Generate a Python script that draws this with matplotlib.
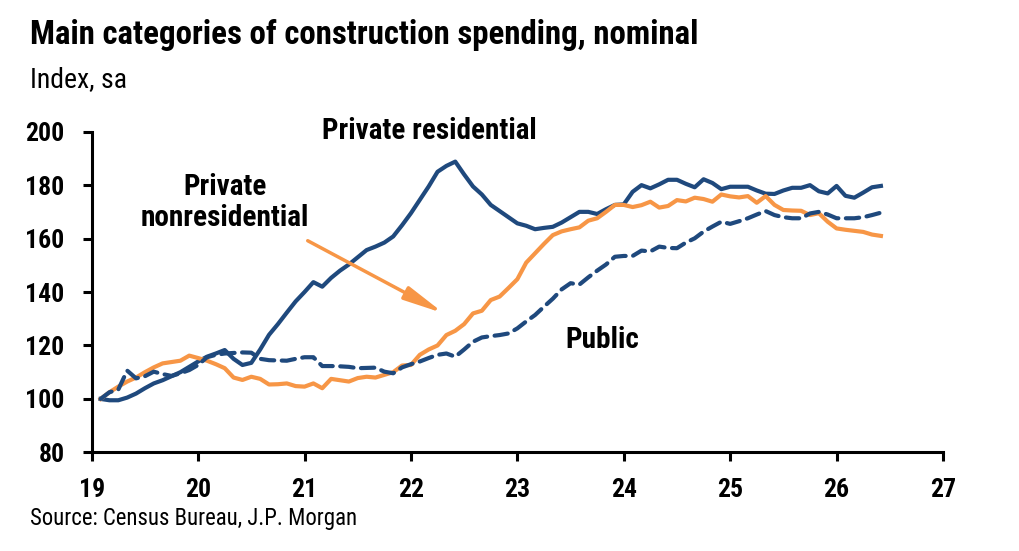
import os
import numpy as np
import matplotlib
matplotlib.use("Agg")
import matplotlib.pyplot as plt
import matplotlib.font_manager as fm

# monthly index, first point = Jan 2019, sa
months = np.arange(1, 90)
x_years = 19 + months / 12.0

private_residential = [
    100, 99.5, 99.5, 100.5, 102, 104, 105.8, 107, 108.5, 110, 112, 114,
    115.8, 117, 118.3, 115, 112.7, 113.5, 118.5, 124, 128, 132.3, 136.5, 140,
    143.7, 142, 145.3, 148, 150.3, 153, 155.7, 157, 158.5, 160.8, 165, 169.5,
    174.5, 179.5, 185, 187.2, 188.8, 184, 179.5, 176.5, 172.6, 170.3, 168, 165.7,
    164.8, 163.5, 164, 164.4, 166, 168, 170, 170, 169.2, 171, 172.6, 172.8,
    177.5, 180, 178.8, 180.3, 182, 182, 180.5, 179.2, 182.2, 180.8, 178.5, 179.4,
    179.4, 179.4, 178, 176.8, 176.7, 178, 179, 179, 180, 177.7, 176.9, 179.7,
    176, 175.3, 177.2, 179.2, 179.7,
]
private_nonresidential = [
    100, 102.5, 104.6, 106.5, 108, 110, 111.8, 113.3, 113.8, 114.3, 116.2, 115.3,
    114.3, 113, 111.5, 108, 107.1, 108.3, 107.5, 105.4, 105.5, 105.8, 104.8, 104.6,
    105.8, 104, 107.5, 107, 106.5, 107.8, 108.3, 108, 109, 110, 112.5, 112.7,
    116.5, 118.5, 120, 123.9, 125.5, 128, 132, 133, 137, 138.3, 141.5, 144.8,
    151, 154.5, 158, 161.3, 162.7, 163.5, 164.2, 166.7, 167.6, 170, 172.6, 172.6,
    171.8, 172.5, 173.8, 171.6, 172.2, 174.4, 173.9, 175.3, 174.8, 173.8, 176.5, 175.8,
    175.4, 175.9, 173.4, 175.9, 172.6, 170.7, 170.5, 170.4, 168.8, 169.5, 166.3, 163.8,
    163.3, 162.9, 162.5, 161.5, 161,
]
public = [
    100, 102.5, 103.5, 110.6, 107.7, 108.5, 110.2, 109.3, 108.6, 109.6, 110.8, 112.7,
    115.6, 116.5, 117, 117.2, 117.4, 117.3, 115, 114.5, 114.4, 114.3, 115, 115.6,
    115.6, 112.3, 112.3, 112.2, 112, 111.5, 111.6, 111.7, 110.2, 109.6, 111.8, 113,
    114, 115.3, 116.5, 117, 115.8, 118.5, 121.4, 123, 123.5, 123.9, 124.5, 126.4,
    129, 131.4, 134.5, 137.5, 141, 143.3, 142.8, 145.5, 148, 150.3, 153.2, 153.5,
    153.5, 155.5, 155.2, 157, 156.5, 156.4, 158.5, 160.1, 162.6, 164.5, 166.3, 165.5,
    166.5, 167.6, 169, 170.3, 168.8, 168, 167.6, 167.6, 169.4, 170, 169, 167.6,
    167.6, 167.6, 168, 168.8, 169.7,
]

xticks = list(range(19, 28))
yticks = list(range(80, 201, 20))

blue = "#1F497D"
orange = "#F79646"


def find_narrow():
    # look for an installed narrow/condensed face (Arial Narrow look-alike)
    files = [f.fname for f in fm.fontManager.ttflist]
    pairs = [
        ("LiberationSansNarrow-Bold.", "LiberationSansNarrow-Regular."),
        ("ArialNarrow-Bold", "ArialNarrow."),
        ("RobotoCondensed-Bold.", "RobotoCondensed-Regular."),
        ("NotoSans-CondensedBold.", "NotoSans-Condensed."),
        ("DejaVuSansCondensed-Bold.", "DejaVuSansCondensed."),
    ]
    for b, r in pairs:
        fb = [f for f in files if os.path.basename(f).startswith(b)]
        fr = [f for f in files if os.path.basename(f).startswith(r)]
        if fb and fr:
            return fm.FontProperties(fname=fb[0]), fm.FontProperties(fname=fr[0])
    return (fm.FontProperties(family="Liberation Sans", weight="bold"),
            fm.FontProperties(family="Liberation Sans"))


bold_fp, reg_fp = find_narrow()

fig = plt.figure(figsize=(10.2, 5.51), dpi=100)
ax = fig.add_axes([0.0899, 0.179, 0.9245 - 0.0899, 0.761 - 0.179])

ax.plot(x_years, private_residential, color=blue, lw=3.0, solid_joinstyle="round")
ax.plot(x_years, private_nonresidential, color=orange, lw=3.0, solid_joinstyle="round")
ax.plot(x_years, public, color=blue, lw=3.0, ls=(0, (3.2, 1.8)), dash_capstyle="round")

ax.set_xlim(19, 27)
ax.set_ylim(80, 200)
ax.set_xticks(xticks)
ax.set_yticks(yticks)
ax.set_xticklabels([str(t) for t in xticks])
ax.set_yticklabels([str(t) for t in yticks])

for s in ["top", "right"]:
    ax.spines[s].set_visible(False)
for s in ["left", "bottom"]:
    ax.spines[s].set_linewidth(2.2)
ax.tick_params(direction="out", length=6.5, width=2.2)
ax.tick_params(axis="x", pad=12)
ax.tick_params(axis="y", pad=13)

texts = []  # (artist, target width in px)

t = ax.text(22.17, 200.2, "Private residential", ha="center", va="center",
            fontproperties=bold_fp)
texts.append((t, 213))
t = ax.text(20.25, 179.3, "Private", ha="center", va="center", fontproperties=bold_fp)
texts.append((t, 83))
t = ax.text(20.25, 167.7, "nonresidential", ha="center", va="center", fontproperties=bold_fp)
texts.append((t, 168))
t = ax.text(23.80, 122, "Public", ha="center", va="center", fontproperties=bold_fp)
texts.append((t, 74))
ax.annotate("", xy=(22.31, 132.0), xytext=(21.03, 159.2),
            arrowprops=dict(arrowstyle="-|>,head_length=2.4,head_width=0.42",
                            color=orange, lw=2.5, shrinkA=0, shrinkB=0))

t = fig.text(30 / 1020, 1 - 35 / 551, "Main categories of construction spending, nominal",
             ha="left", va="center", fontproperties=bold_fp)
texts.append((t, 668))
t = fig.text(30 / 1020, 1 - 80 / 551, "Index, sa", ha="left", va="center",
             fontproperties=reg_fp)
texts.append((t, 97))
t = fig.text(30 / 1020, 1 - 518 / 551, "Source: Census Bureau, J.P. Morgan", ha="left",
             va="center", fontproperties=reg_fp)
texts.append((t, 327))

# size texts so their widths match the reference
renderer = fig.canvas.get_renderer()
for art, target in texts:
    art.set_fontsize(20)
    w = art.get_window_extent(renderer).width
    art.set_fontsize(20 * target / w)

# tick labels: "200" about 39 px wide
probe = fig.text(0, 0, "200", fontproperties=bold_fp, fontsize=20)
tick_size = 20 * 39 / probe.get_window_extent(renderer).width
probe.remove()
for lab in ax.get_xticklabels() + ax.get_yticklabels():
    lab.set_fontproperties(bold_fp)
    lab.set_fontsize(tick_size)

fig.savefig("out.png", dpi=100, facecolor="w")
